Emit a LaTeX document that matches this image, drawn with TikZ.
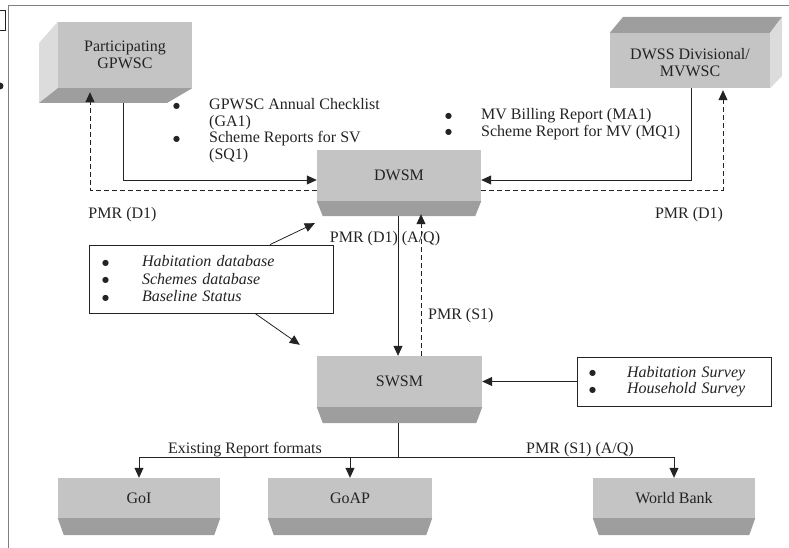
\documentclass[tikz,border=0pt]{standalone}
\usepackage{fontspec}
\setmainfont{Liberation Serif}
\newfontfamily\symfont{DejaVu Sans}
\usetikzlibrary{arrows.meta}
\definecolor{front}{RGB}{196,196,196}
\definecolor{dark}{RGB}{158,158,158}
\definecolor{light}{RGB}{220,220,220}
\definecolor{ink}{RGB}{35,35,35}
\newcommand\bottomface[3]{\fill[dark] (#1.south west) -- (#1.south east) -- ([xshift=-#3pt,yshift=-#2pt]#1.south east) -- ([xshift=#3pt,yshift=-#2pt]#1.south west) -- cycle;}
\newcommand\blt{\raisebox{1.5pt}{\symfont\fontsize{8}{9}\selectfont ●}}
\begin{document}
\begin{tikzpicture}[x=1pt,y=-1pt,
  every node/.style={font=\fontsize{16}{17}\selectfont, text=ink},
  slab/.style={fill=front, inner sep=0pt, align=center},
  conn/.style={draw=ink, line width=0.8pt},
  arr/.style={conn, -{Triangle[length=10pt,width=9pt]}},
  dashconn/.style={arr, dashed, dash pattern=on 5pt off 3pt},
  listbox/.style={draw=ink, line width=0.8pt, fill=white, inner ysep=0pt, align=left},
  lbl/.style={anchor=base, inner sep=0pt}]
\useasboundingbox (0,0) rectangle (789,548);
% outer frame and edge fragments
\draw[gray, line width=1pt] (789,6) -- (8,6) -- (8,548);
\draw[ink, line width=1pt] (0,11) -- (5,11) -- (5,31) -- (0,31);
\fill[ink] (0,86) circle (3.5);
% Participating GPWSC
\node[slab, minimum width=134pt, minimum height=66pt] (gp) at (125,55) {Participating\\GPWSC};
\fill[light] (gp.north west) -- (39,43) -- (39,103) -- (gp.south west) -- cycle;
\fill[dark] (gp.south west) -- (39,103) -- (167,103) -- (gp.south east) -- cycle;
% DWSS
\node[slab, minimum width=160pt, minimum height=55pt] (dwss) at (690,60.5)
  {\raisebox{-8pt}[0pt][0pt]{\begin{tabular}{@{}c@{}}DWSS Divisional/\\MVWSC\end{tabular}}};
\fill[dark] (dwss.north west) -- (623,17) -- (782,17) -- (dwss.north east) -- cycle;
\fill[light] (dwss.north east) -- (782,17) -- (782,76) -- (dwss.south east) -- cycle;
% DWSM, SWSM
\node[slab, minimum width=164pt, minimum height=51pt] (dwsm) at (399,175.5) {DWSM};
\bottomface{dwsm}{15}{6}
\node[slab, minimum width=165pt, minimum height=51pt] (swsm) at (399.5,381.5) {SWSM};
\bottomface{swsm}{16}{6}
% bottom row
\node[slab, minimum width=162pt, minimum height=40pt] (goi) at (139,498) {GoI};
\bottomface{goi}{17}{6}
\node[slab, minimum width=164pt, minimum height=40pt] (goap) at (350,498) {GoAP};
\bottomface{goap}{17}{6}
\node[slab, minimum width=162pt, minimum height=40pt] (wb) at (674,498) {World Bank};
\bottomface{wb}{17}{6}
% list boxes
\node[listbox, font=\fontsize{16}{17.5}\selectfont, text width=218pt, inner xsep=13pt, minimum height=68pt] (db) at (211,279)
  {\makebox[40pt][l]{\blt}\textit{Habitation database}\\
   \makebox[40pt][l]{\blt}\textit{Schemes database}\\
   \makebox[40pt][l]{\blt}\textit{Baseline Status}};
\node[listbox, font=\fontsize{16}{16.5}\selectfont, text width=170pt, inner xsep=12pt, minimum height=49pt] (hs) at (674,381.5)
  {\makebox[38pt][l]{\blt}\textit{Habitation Survey}\\
   \makebox[38pt][l]{\blt}\textit{Household Survey}};
% top bullet lists
\node[anchor=base west, inner sep=0pt, font=\fontsize{16}{16.5}\selectfont] (ga) at (173,110)
  {\begin{tabular}[t]{@{}p{36pt}@{}l@{}}\blt & GPWSC Annual Checklist\\ & (GA1)\\ \blt & Scheme Reports for SV\\ & (SQ1)\end{tabular}};
\node[anchor=base west, inner sep=0pt, font=\fontsize{16}{16.5}\selectfont] (ma) at (445,120)
  {\begin{tabular}[t]{@{}p{36pt}@{}l@{}}\blt & MV Billing Report (MA1)\\ \blt & Scheme Report for MV (MQ1)\end{tabular}};
% connectors
\draw[arr] ([xshift=-2pt,yshift=-15pt]gp.south) |- ([yshift=-4.5pt]dwsm.west);
\draw[dashconn] ([yshift=-14.5pt]dwsm.west) -| ([xshift=-35pt,yshift=-4pt]gp.south);
\draw[arr] ([xshift=1pt]dwss.south) |- ([yshift=-4.5pt]dwsm.east);
\draw[dashconn] ([yshift=-14.5pt]dwsm.east) -| ([xshift=33pt,yshift=-2pt]dwss.south);
\draw[arr] ([xshift=-1pt,yshift=-15pt]dwsm.south) -- ([xshift=-1.5pt]swsm.north);
\draw[dashconn] ([xshift=21.5pt]swsm.north) -- ([xshift=22pt,yshift=-13pt]dwsm.south);
\draw[arr] ([xshift=59pt]db.north) -- ([xshift=-2pt,yshift=-22pt]dwsm.south west);
\draw[arr] ([xshift=44pt]db.south) -- ([xshift=-17pt,yshift=11pt]swsm.north west);
\draw[arr] (hs.west) -- (hs.west -| swsm.east);
\coordinate (split) at (398,457);
\draw[conn] ([xshift=-1.5pt,yshift=-16pt]swsm.south) -- (split);
\draw[arr] (split) -| (goi.north);
\draw[arr] (split) -| (wb.north);
\draw[arr] (goap.north |- split) -- (goap.north);
% labels
\node[lbl] (l1) at (122.5,218.5) {PMR (D1)};
\node[lbl] (l2) at (689,218) {PMR (D1)};
\node[lbl] (l3) at (385,242) {PMR (D1) (A/Q)};
\node[lbl, anchor=base west] (l4) at (428,319.5) {PMR (S1)};
\node[lbl] (l5) at (245,453) {Existing Report formats};
\node[lbl] (l6) at (580,453) {PMR (S1) (A/Q)};
\end{tikzpicture}
\end{document}
